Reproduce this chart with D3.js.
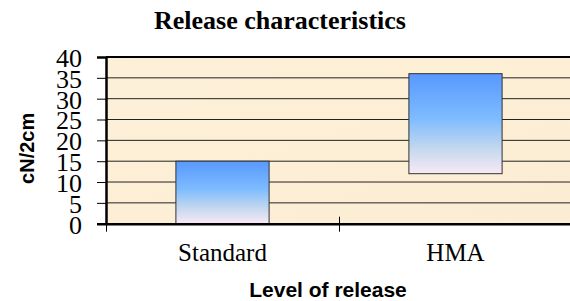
<!DOCTYPE html>
<html>
<head>
<meta charset="utf-8">
<script src="https://cdn.jsdelivr.net/npm/d3@7"></script>
<style>
  body { margin: 0; background: #fff; }
  svg { display: block; }
  .axis path, .axis line { stroke: #000; }
</style>
</head>
<body>
<script>
var categories = ["Standard", "HMA"]
var lowValues = [0, 12]
var highValues = [15, 36]
var yTicks = [0, 5, 10, 15, 20, 25, 30, 35, 40]

var width = 570, height = 301
var margin = {left: 106, top: 57, right: -2, bottom: 78}
var serif = "'Liberation Serif', 'Times New Roman', serif"
var sans = "'Liberation Sans', Arial, sans-serif"

var svg = d3.select("body").append("svg")
    .attr("width", width)
    .attr("height", height)

// gradient for the bars
var defs = svg.append("defs")
var grad = defs.append("linearGradient")
    .attr("id", "barGrad")
    .attr("x1", 0).attr("y1", 0).attr("x2", 0).attr("y2", 1)
grad.append("stop").attr("offset", "0%").attr("stop-color", "#5898fd")
grad.append("stop").attr("offset", "45%").attr("stop-color", "#7ebcff")
grad.append("stop").attr("offset", "75%").attr("stop-color", "#c4d8ee")
grad.append("stop").attr("offset", "100%").attr("stop-color", "#f8e9f6")

var bg = defs.append("linearGradient")
    .attr("id", "bgGrad")
    .attr("x1", 0).attr("y1", 0).attr("x2", 1).attr("y2", 1)
bg.append("stop").attr("offset", "0%").attr("stop-color", "#fdf0d8")
bg.append("stop").attr("offset", "50%").attr("stop-color", "#fcefd6")
bg.append("stop").attr("offset", "100%").attr("stop-color", "#fbedd3")

var y = d3.scaleLinear()
    .domain([0, 40])
    .range([height - margin.bottom + 0.7, margin.top])

var x = d3.scaleBand()
    .domain(categories)
    .range([margin.left, width - margin.right])
    .padding(0)

// plot background
svg.append("rect")
    .attr("x", margin.left)
    .attr("y", y(40))
    .attr("width", x.range()[1] - margin.left)
    .attr("height", y(0) - y(40))
    .attr("fill", "url(#bgGrad)")

// GRID
svg.append("g").selectAll("line")
    .data(yTicks.filter(function(d){ return d > 0 && d < 40 }))
    .enter().append("line")
    .attr("x1", margin.left)
    .attr("x2", x.range()[1])
    .attr("y1", function(d){ return y(d) })
    .attr("y2", function(d){ return y(d) })
    .attr("stroke", "#222")
    .attr("stroke-width", 1)

// top border
svg.append("line")
    .attr("x1", margin.left).attr("x2", x.range()[1])
    .attr("y1", y(40)).attr("y2", y(40))
    .attr("stroke", "#000").attr("stroke-width", 2)

// BARS
var barW = x.bandwidth() * 0.4
svg.append("g").selectAll("rect")
    .data(categories)
    .enter().append("rect")
    .attr("x", function(d){ return x(d) + (x.bandwidth() - barW) / 2 })
    .attr("y", function(d, i){ return y(highValues[i]) })
    .attr("width", barW)
    .attr("height", function(d, i){ return y(lowValues[i]) - y(highValues[i]) })
    .attr("fill", "url(#barGrad)")
    .attr("stroke", "#333")
    .attr("stroke-width", 1)

// Y AXIS
var yAxis = d3.axisLeft(y).tickValues(yTicks).tickSize(9).tickPadding(15)
var yG = svg.append("g")
    .attr("class", "axis")
    .attr("transform", "translate(" + margin.left + ",0)")
    .call(yAxis)
yG.select(".domain").attr("stroke-width", 2.5)
yG.selectAll(".tick text")
    .attr("font-family", serif)
    .attr("font-size", "26px")
    .attr("fill", "#000")
    .attr("dy", "0.36em")

// X AXIS
var xAxis = d3.axisBottom(x).tickSize(0).tickPadding(20)
var xG = svg.append("g")
    .attr("class", "axis")
    .attr("transform", "translate(0," + y(0) + ")")
    .call(xAxis)
xG.select(".domain").attr("stroke-width", 2.5)
xG.selectAll(".tick text")
    .attr("font-family", serif)
    .attr("font-size", "25px")
    .attr("fill", "#000")

// category separator ticks
svg.append("g").selectAll("line")
    .data(categories)
    .enter().append("line")
    .attr("x1", function(d){ return x(d) + 0.5 })
    .attr("x2", function(d){ return x(d) + 0.5 })
    .attr("y1", function(d, i){ return i === 0 ? y(0) : y(0) - 7 })
    .attr("y2", y(0) + 8)
    .attr("stroke", "#000")

// TITLES
svg.append("text")
    .attr("x", 280)
    .attr("y", 28.5)
    .attr("text-anchor", "middle")
    .attr("font-family", serif)
    .attr("font-weight", "bold")
    .attr("font-size", "26px")
    .text("Release characteristics")

svg.append("text")
    .attr("transform", "translate(34," + ((y(0) + y(40)) / 2 + 8) + ") rotate(-90)")
    .attr("text-anchor", "middle")
    .attr("font-family", sans)
    .attr("font-weight", "bold")
    .attr("font-size", "20px")
    .text("cN/2cm")

svg.append("text")
    .attr("x", 328)
    .attr("y", 296.5)
    .attr("text-anchor", "middle")
    .attr("font-family", sans)
    .attr("font-weight", "bold")
    .attr("font-size", "21px")
    .text("Level of release")
</script>
</body>
</html>
